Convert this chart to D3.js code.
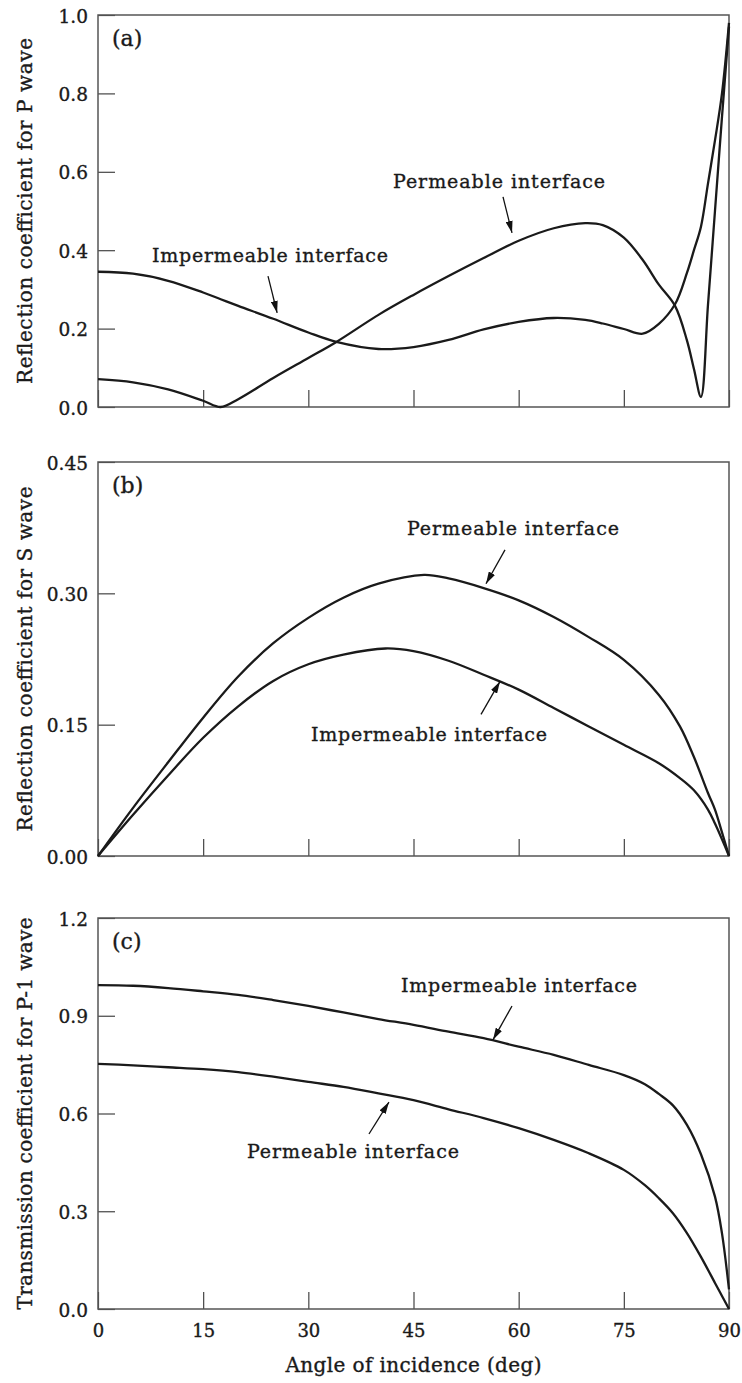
<!DOCTYPE html>
<html>
<head>
<meta charset="utf-8">
<script src="https://cdn.jsdelivr.net/npm/d3@7"></script>
<style>
  html, body { margin: 0; padding: 0; background: #fff; }
  svg { display: block; }
  text { font-family: "DejaVu Serif", "Liberation Serif", serif; fill: #1a1a1a; stroke: #1a1a1a; stroke-width: 0.35px; }
</style>
</head>
<body>
<svg id="chart" width="742" height="1383"></svg>
<script>
// ---------- DATA ----------
// Panel (a): reflection coefficient for P wave
const anglesA = [0,5,10,15,17.5,20,25,30,34,40,45,50,55,60,65,69.5,72,75,77.7,80,82.3,84,85,86,87,88,89,90];
const permeableA   = [0.071,0.063,0.045,0.016,0.0,0.02,0.074,0.125,0.166,0.235,0.286,0.334,0.38,0.424,0.456,0.469,0.464,0.432,0.375,0.312,0.258,0.17,0.097,0.026,0.26,0.5,0.74,0.97];
const impermeableA = [0.345,0.34,0.322,0.292,0.275,0.258,0.225,0.19,0.166,0.148,0.153,0.171,0.198,0.217,0.227,0.222,0.213,0.199,0.187,0.212,0.262,0.342,0.40,0.46,0.57,0.68,0.80,0.98];

// Panel (b): reflection coefficient for S wave
const anglesBperm   = [0,5,10,15,20,25,30,35,40,46.5,50,55,60,65,70,75,80,83,85,87,88,89,90];
const permeableB    = [0,0.055,0.107,0.158,0.205,0.243,0.272,0.295,0.311,0.321,0.317,0.306,0.292,0.273,0.25,0.224,0.184,0.148,0.113,0.072,0.053,0.027,0];
const anglesBimp    = [0,5,10,15,20,25,30,35,41,45,50,55,60,65,70,75,80,83,85,87,88,89,90];
const impermeableB  = [0,0.047,0.092,0.135,0.171,0.2,0.219,0.23,0.237,0.234,0.223,0.207,0.19,0.169,0.148,0.127,0.106,0.089,0.075,0.053,0.037,0.019,0];

// Panel (c): transmission coefficient for P-1 wave
const anglesC = [0,5,10,15,20,25,30,35,40,45,50,55,60,65,70,75,78,80,82,84,86,88,89,90];
const impermeableC = [0.994,0.992,0.985,0.975,0.964,0.948,0.93,0.91,0.89,0.872,0.851,0.831,0.805,0.78,0.749,0.718,0.69,0.66,0.625,0.565,0.475,0.345,0.232,0.06];
const permeableC   = [0.752,0.748,0.742,0.736,0.727,0.713,0.697,0.682,0.662,0.641,0.613,0.586,0.555,0.519,0.478,0.427,0.38,0.34,0.294,0.233,0.16,0.08,0.04,0];

const xTicks = [0,15,30,45,60,75,90];
const yTicksA = [0,0.2,0.4,0.6,0.8,1.0];
const yTicksB = [0,0.15,0.30,0.45];
const yTicksC = [0,0.3,0.6,0.9,1.2];

const panelLabels = ["(a)","(b)","(c)"];
const yTitles = ["Reflection coefficient for P wave","Reflection coefficient for S wave","Transmission coefficient for P-1 wave"];
const xTitle = "Angle of incidence (deg)";

// annotations in data units: text anchor (angle,value), arrow from -> to
const annotA = [
  {text:"Impermeable interface", tx:7.7,  ty:0.370, x1:24.25, y1:0.334, x2:25.55, y2:0.240},
  {text:"Permeable interface",   tx:42.08,ty:0.559, x1:57.77, y1:0.536, x2:59.05, y2:0.444}
];
const annotB = [
  {text:"Permeable interface",   tx:44.07,ty:0.3668,x1:58.05, y1:0.3497,x2:55.34, y2:0.311},
  {text:"Impermeable interface", tx:30.38,ty:0.131, x1:54.63, y1:0.1618,x2:57.34, y2:0.1994}
];
const annotC = [
  {text:"Impermeable interface", tx:43.22,ty:0.973, x1:59.05, y1:0.930, x2:56.34, y2:0.826},
  {text:"Permeable interface",   tx:21.25,ty:0.4635,x1:38.65, y1:0.537, x2:41.5,  y2:0.635}
];

// ---------- LAYOUT ----------
const left = 98, right = 729;
const panels = [
  {top:15,  bottom:407,  ymax:1.0,  ticks:yTicksA, fmt:d3.format(".1f"),
   series:[{a:anglesA, v:permeableA},{a:anglesA, v:impermeableA}], annot:annotA, titleLen:346},
  {top:462, bottom:856,  ymax:0.45, ticks:yTicksB, fmt:d3.format(".2f"),
   series:[{a:anglesBperm, v:permeableB},{a:anglesBimp, v:impermeableB}], annot:annotB, titleLen:345},
  {top:918, bottom:1309, ymax:1.2,  ticks:yTicksC, fmt:d3.format(".1f"),
   series:[{a:anglesC, v:permeableC},{a:anglesC, v:impermeableC}], annot:annotC, titleLen:392}
];
const annotLen = {"Impermeable interface":236, "Permeable interface":212};

const svg = d3.select("#chart");
const defs = svg.append("defs");
defs.append("marker")
  .attr("id","arrow").attr("viewBox","0 0 12 7")
  .attr("refX",12).attr("refY",3.5)
  .attr("markerWidth",12).attr("markerHeight",7)
  .attr("markerUnits","userSpaceOnUse")
  .attr("orient","auto")
  .append("path").attr("d","M0,0 L12,3.5 L0,7 Z").attr("fill","#111");

const x = d3.scaleLinear().domain([0,90]).range([left,right]);

panels.forEach((p,i) => {
  const y = d3.scaleLinear().domain([0,p.ymax]).range([p.bottom,p.top]);
  const g = svg.append("g");

  // y axis (ticks inward)
  const ya = g.append("g").attr("transform",`translate(${left},0)`)
    .call(d3.axisLeft(y).tickValues(p.ticks).tickFormat(p.fmt).tickSize(-17).tickPadding(10));
  ya.selectAll("text").attr("font-size",18.5).attr("font-family","DejaVu Serif").attr("fill","#1a1a1a").attr("dy","0.38em");
  ya.selectAll("line").attr("stroke","#444").attr("stroke-width",1.2);
  ya.select(".domain").remove();

  // x axis (ticks inward)
  const xa = g.append("g").attr("transform",`translate(0,${p.bottom})`)
    .call(d3.axisBottom(x).tickValues(xTicks).tickSize(-17).tickPadding(15)
      .tickFormat(i===2 ? d3.format("d") : ""));
  xa.selectAll("text").attr("font-size",18).attr("font-family","DejaVu Serif").attr("fill","#1a1a1a");
  xa.selectAll("line").attr("stroke","#444").attr("stroke-width",1.2);
  xa.select(".domain").remove();

  // frame
  g.append("rect").attr("x",left).attr("y",p.top)
    .attr("width",right-left).attr("height",p.bottom-p.top)
    .attr("fill","none").attr("stroke","#555").attr("stroke-width",1.5);

  // curves
  p.series.forEach(s => {
    const line = d3.line().x((d,k)=>x(s.a[k])).y(d=>y(Math.max(0,d))).curve(d3.curveCatmullRom.alpha(0.5));
    g.append("path").datum(s.v).attr("d",line)
      .attr("fill","none").attr("stroke","#1a1a1a").attr("stroke-width",2.3)
      .attr("stroke-linejoin","round");
  });

  // annotations
  p.annot.forEach(a => {
    g.append("text").attr("x",x(a.tx)).attr("y",y(a.ty))
      .attr("font-size",19).attr("textLength",annotLen[a.text]).attr("lengthAdjust","spacing").text(a.text);
    g.append("line").attr("x1",x(a.x1)).attr("y1",y(a.y1)).attr("x2",x(a.x2)).attr("y2",y(a.y2))
      .attr("stroke","#111").attr("stroke-width",1.3).attr("marker-end","url(#arrow)");
  });

  // panel label
  g.append("text").attr("x",left+14).attr("y",p.top+31).attr("font-size",22).text(panelLabels[i]);

  // y title
  g.append("text").attr("transform",`translate(32,${(p.top+p.bottom)/2}) rotate(-90)`)
    .attr("text-anchor","middle").attr("font-size",20)
    .attr("textLength",p.titleLen).attr("lengthAdjust","spacing").text(yTitles[i]);
});

svg.append("text").attr("x",(left+right)/2).attr("y",1372)
  .attr("text-anchor","middle").attr("font-size",20)
  .attr("textLength",256).attr("lengthAdjust","spacing").text(xTitle);
</script>
</body>
</html>
